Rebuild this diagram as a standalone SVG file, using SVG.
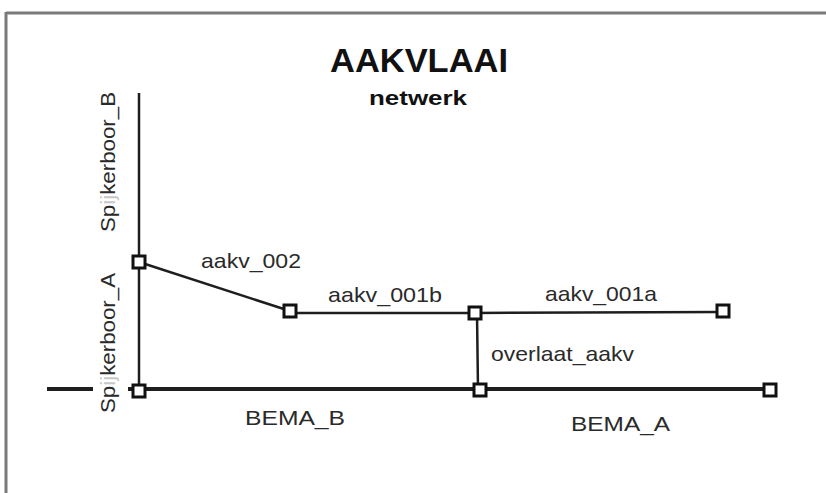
<svg xmlns="http://www.w3.org/2000/svg" width="826" height="493" viewBox="0 0 826 493">
<style>
.frame{stroke:#7a7a7a;stroke-width:3;fill:none}
.edge{stroke:#1e1e1e;fill:none;stroke-linecap:butt}
.thin{stroke-width:2.5}
.thick{stroke-width:4}
.node rect{fill:#fff;stroke:#111;stroke-width:3}
.lbl{font-family:"Liberation Sans",Arial,sans-serif;font-size:21px;fill:#2a2a2a}
.title{font-family:"Liberation Sans",Arial,sans-serif;font-weight:bold;fill:#111;text-anchor:middle}
.faint{fill:#c8c8c8}
</style>
<rect width="826" height="493" fill="#fff"/>
<g id="frame">
<line class="frame" x1="6" y1="13" x2="826" y2="13"/>
<line class="frame" x1="6" y1="12" x2="6" y2="493"/>
</g>
<g id="titles">
<text class="title" x="419" y="72" font-size="33" textLength="178" lengthAdjust="spacingAndGlyphs">AAKVLAAI</text>
<text class="title" x="418" y="105" font-size="20" textLength="98" lengthAdjust="spacingAndGlyphs">netwerk</text>
</g>
<g id="connectors">
<line id="spijkerboor_b" class="edge thin" x1="139" y1="93" x2="139" y2="262"/>
<line id="spijkerboor_a" class="edge thin" x1="139" y1="262" x2="139" y2="391"/>
<line id="aakv_002" class="edge thin" x1="139" y1="262" x2="290" y2="311"/>
<line id="aakv_001b" class="edge thin" x1="290" y1="313" x2="475" y2="313"/>
<line id="aakv_001a" class="edge thin" x1="475" y1="313" x2="723" y2="312"/>
<line id="overlaat_aakv" class="edge thin" x1="477" y1="313" x2="478" y2="390"/>
<line id="bema_b" class="edge thick" x1="47" y1="389" x2="480" y2="389"/>
<line id="bema_a" class="edge thick" x1="480" y1="389" x2="770" y2="389"/>
</g>
<g id="labels">
<rect x="93" y="272" width="35" height="143" fill="#fff"/>
<text class="lbl" transform="translate(115,162) rotate(-90)" text-anchor="middle" textLength="140" lengthAdjust="spacingAndGlyphs">Sp<tspan class="faint">ij</tspan>kerboor_B</text>
<text class="lbl" transform="translate(115,343) rotate(-90)" text-anchor="middle" textLength="140" lengthAdjust="spacingAndGlyphs">Sp<tspan class="faint">ij</tspan>kerboor_A</text>
<text class="lbl" x="201" y="268" textLength="100" lengthAdjust="spacingAndGlyphs">aakv_002</text>
<text class="lbl" x="328" y="302" textLength="114" lengthAdjust="spacingAndGlyphs">aakv_001b</text>
<text class="lbl" x="545" y="301" textLength="112" lengthAdjust="spacingAndGlyphs">aakv_001a</text>
<text class="lbl" x="491" y="361" textLength="143" lengthAdjust="spacingAndGlyphs">overlaat_aakv</text>
<text class="lbl" x="245" y="425" textLength="100" lengthAdjust="spacingAndGlyphs">BEMA_B</text>
<text class="lbl" x="571" y="431" textLength="99" lengthAdjust="spacingAndGlyphs">BEMA_A</text>
</g>
<g id="n1" class="node"><rect x="133" y="256" width="12" height="12"/></g>
<g id="n2" class="node"><rect x="133" y="385" width="12" height="12"/></g>
<g id="n3" class="node"><rect x="284" y="305" width="12" height="12"/></g>
<g id="n4" class="node"><rect x="469" y="307" width="12" height="12"/></g>
<g id="n5" class="node"><rect x="717" y="305" width="12" height="12"/></g>
<g id="n6" class="node"><rect x="474" y="384" width="12" height="12"/></g>
<g id="n7" class="node"><rect x="764" y="384" width="12" height="12"/></g>
</svg>
